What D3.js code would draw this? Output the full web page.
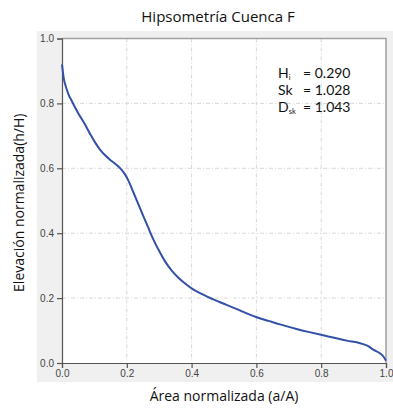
<!DOCTYPE html>
<html><head><meta charset="utf-8">
<script src="https://cdn.jsdelivr.net/npm/d3@7"></script>
<style>body{margin:0;background:#fff}svg{display:block}</style>
</head><body>
<svg id="c" width="393" height="410"></svg>
<script>
const chartTitle = "Hipsometría Cuenca F";
const xLabel = "Área normalizada (a/A)";
const yLabel = "Elevación normalizada(h/H)";
const xTicks = [0, 0.2, 0.4, 0.6, 0.8, 1.0];
const yTicks = [0, 0.2, 0.4, 0.6, 0.8, 1.0];
const areaValues = [0.000,0.003,0.006,0.010,0.015,0.020,0.030,0.040,0.050,0.071,0.090,0.102,0.118,0.133,0.150,0.164,0.180,0.194,0.205,0.220,0.235,0.250,0.265,0.280,0.300,0.320,0.340,0.360,0.380,0.400,0.426,0.467,0.508,0.540,0.570,0.601,0.640,0.673,0.724,0.760,0.803,0.840,0.879,0.920,0.945,0.961,0.981,0.992,1.000];
const elevValues = [0.920,0.895,0.874,0.858,0.842,0.828,0.808,0.788,0.770,0.735,0.700,0.680,0.657,0.640,0.625,0.614,0.600,0.582,0.562,0.527,0.491,0.455,0.420,0.385,0.345,0.310,0.283,0.262,0.245,0.230,0.215,0.196,0.179,0.166,0.153,0.141,0.129,0.119,0.105,0.096,0.086,0.078,0.069,0.061,0.052,0.041,0.030,0.020,0.007];
const statNames = ["H", "Sk", "D"];
const statSubs = ["i", "", "sk"];
const statValues = ["0.290", "1.028", "1.043"];

const svg = d3.select("#c");
const m = {left: 62, right: 386, top: 38.5, bottom: 363};
const x = d3.scaleLinear().domain([0, 1]).range([m.left, m.right]);
const y = d3.scaleLinear().domain([0, 1]).range([m.bottom, m.top]);

svg.append("rect").attr("x", 37).attr("y", 31).attr("width", 356).attr("height", 351).attr("fill", "#f0f0f0");
svg.append("rect").attr("x", m.left).attr("y", m.top).attr("width", m.right - m.left).attr("height", m.bottom - m.top).attr("fill", "#fff");

// grid
const g = svg.append("g");
g.selectAll("line.gx").data(xTicks.slice(1, -1)).join("line")
  .attr("x1", d => x(d)).attr("x2", d => x(d)).attr("y1", m.top).attr("y2", m.bottom)
  .attr("stroke", "#d8d8d8").attr("stroke-width", 1).attr("stroke-dasharray", "4,2,1,2");
g.selectAll("line.gy").data(yTicks.slice(1, -1)).join("line")
  .attr("y1", d => y(d)).attr("y2", d => y(d)).attr("x1", m.left).attr("x2", m.right)
  .attr("stroke", "#d8d8d8").attr("stroke-width", 1).attr("stroke-dasharray", "4,2,1,2");

// frame top/right
svg.append("path").attr("d", `M${m.left},${m.top}H${m.right}V${m.bottom}`)
  .attr("fill", "none").attr("stroke", "#a0a0a0").attr("stroke-width", 1.5);

// axes
const fmt = d3.format(".1f");
const xAxis = svg.append("g").attr("transform", `translate(0,${m.bottom})`)
  .call(d3.axisBottom(x).tickValues(xTicks).tickFormat(fmt).tickSizeOuter(0).tickSize(5).tickPadding(2));
const yAxis = svg.append("g").attr("transform", `translate(${m.left},0)`)
  .call(d3.axisLeft(y).tickValues(yTicks).tickFormat(fmt).tickSizeOuter(0).tickSize(5).tickPadding(3));
[xAxis, yAxis].forEach(a => {
  a.select(".domain").attr("stroke", "#555").attr("stroke-width", 1.2);
  a.selectAll(".tick line").attr("stroke", "#555").attr("stroke-width", 1.2);
  a.selectAll(".tick text").attr("fill", "#444").style("font-family", "Liberation Sans, Arial, sans-serif").style("font-size", "10px");
});

// curve
const line = d3.line().x((d, i) => x(areaValues[i])).y(d => y(d)).curve(d3.curveMonotoneX);
svg.append("path").datum(elevValues).attr("d", line)
  .attr("fill", "none").attr("stroke", "#3350a8").attr("stroke-width", 2);

// texts
const font = "'Open Sans', 'Noto Sans', sans-serif";
svg.append("text").attr("x", 218).attr("y", 22).attr("text-anchor", "middle")
  .style("font-family", font).style("font-size", "15px").attr("fill", "#111").text(chartTitle);
svg.append("text").attr("x", 224).attr("y", 401).attr("text-anchor", "middle")
  .style("font-family", font).style("font-size", "14px").attr("fill", "#111").text(xLabel);
svg.append("text").attr("transform", `translate(24,${(m.top + m.bottom) / 2 + 2}) rotate(-90)`).attr("text-anchor", "middle")
  .style("font-family", font).style("font-size", "14px").attr("fill", "#111").text(yLabel);

const st = svg.append("g").style("font-family", "Lato, 'Open Sans', sans-serif").style("font-size", "14px").attr("fill", "#111");
statNames.forEach((n, i) => {
  const yy = 78 + i * 17;
  const t = st.append("text").attr("x", 278).attr("y", yy);
  t.append("tspan").text(n);
  if (statSubs[i]) t.append("tspan").attr("dy", 1.5).style("font-size", "7.5px").text(statSubs[i]);
  st.append("text").attr("x", 303).attr("y", yy).text("= " + statValues[i]);
});
</script>
</body></html>
